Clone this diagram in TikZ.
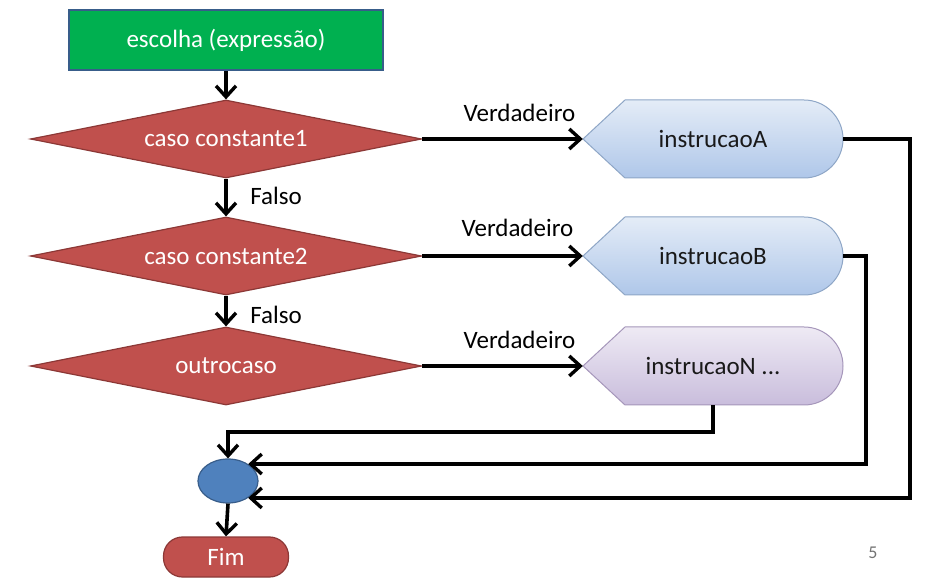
\documentclass[tikz,border=0pt]{standalone}
\usepackage{fontspec}
\setmainfont{Carlito}
\usetikzlibrary{arrows.meta,shapes.geometric,calc}
\definecolor{grn}{HTML}{00B050}
\definecolor{bluebd}{HTML}{385D8A}
\definecolor{redf}{HTML}{C0504D}
\definecolor{redbd}{HTML}{8C3836}
\definecolor{bluef}{HTML}{4F81BD}
\definecolor{lbtop}{HTML}{E4ECF7}
\definecolor{lbbot}{HTML}{AFC7E9}
\definecolor{lvtop}{HTML}{EEEAF4}
\definecolor{lvbot}{HTML}{C9BDDC}
\definecolor{dispbd}{HTML}{8EA6C6}
\definecolor{lvbd}{HTML}{A596BA}
\begin{document}
\begin{tikzpicture}[x=1pt,y=-1pt,
  every node/.style={font=\fontsize{25}{30}\selectfont},
  arr/.style={line width=3.6pt,line join=miter,-{Straight Barb[length=11pt,width=20pt,line width=3.4pt]}},
  startbox/.style={rectangle,fill=grn,draw=bluebd,line width=2.5pt,text=white,minimum width=314pt,minimum height=60pt,inner sep=0pt},
  dia/.style={diamond,aspect=6,fill=redf,draw=redbd,line width=1.2pt,text=white,minimum width=391pt,minimum height=78pt,inner sep=0pt},
  disptext/.style={rectangle,draw=none,minimum width=260pt,minimum height=78pt,inner sep=0pt,text=black!90},
  dispA/.style={top color=lbtop,bottom color=lbbot,draw=dispbd,line width=1pt},
  dispN/.style={top color=lvtop,bottom color=lvbot,draw=lvbd,line width=1pt},
  joinnode/.style={ellipse,fill=bluef,draw=bluebd,line width=1.2pt,minimum width=60pt,minimum height=44pt,inner sep=0pt},
  endbox/.style={rectangle,rounded corners=19pt,fill=redf,draw=redbd,line width=1.2pt,text=white,minimum width=125pt,minimum height=40pt,inner sep=0pt},
  lbl/.style={text=black,inner sep=0pt}]
\useasboundingbox (0,0) rectangle (927,585);
% display shapes
\path[dispA] (583,139) -- (625,100) -- (804,100) arc[start angle=-90,end angle=90,radius=39] -- (625,178) -- cycle;
\path[dispA] (583,256) -- (625,217) -- (804,217) arc[start angle=-90,end angle=90,radius=39] -- (625,295) -- cycle;
\path[dispN] (583,366) -- (625,327) -- (804,327) arc[start angle=-90,end angle=90,radius=39] -- (625,405) -- cycle;
% nodes
\node[startbox] (s) at (226,40) {escolha (expressão)};
\node[dia] (d1) at (226,139) {caso constante1};
\node[dia] (d2) at (226,256) {caso constante2};
\node[dia] (d3) at (226,366) {outrocaso};
\node[disptext] (A) at (713,139) {instrucaoA};
\node[disptext] (B) at (713,256) {instrucaoB};
\node[disptext] (N) at (713,366) {instrucaoN ...};
\node[joinnode] (e) at (228,481) {};
\node[endbox] (f) at (226,557) {Fim};
% connectors
\draw[arr] (s.south) -- (d1.north);
\draw[arr] (d1.south) -- node[lbl,xshift=50pt,yshift=2pt] {Falso} (d2.north);
\draw[arr] (d2.south) -- node[lbl,xshift=50pt,yshift=-4pt] {Falso} (d3.north);
\draw[arr] (d1.east) -- node[lbl,xshift=17pt,yshift=26pt] {Verdadeiro} (A.west);
\draw[arr] (d2.east) -- node[lbl,xshift=15pt,yshift=28pt] {Verdadeiro} (B.west);
\draw[arr] (d3.east) -- node[lbl,xshift=17pt,yshift=26pt] {Verdadeiro} (N.west);
\draw[arr] (N.south) -- ++(0,27) -| (e.north);
\draw[arr] (B.east) -- ++(23,0) |- (e.40);
\draw[arr] (A.east) -- ++(67,0) |- (e.-40);
\draw[arr] (e.south) -- (f.north);
\node[text=black!55,font=\fontsize{18}{20}\selectfont] (pg) at (873,553) {5};
\end{tikzpicture}
\end{document}
